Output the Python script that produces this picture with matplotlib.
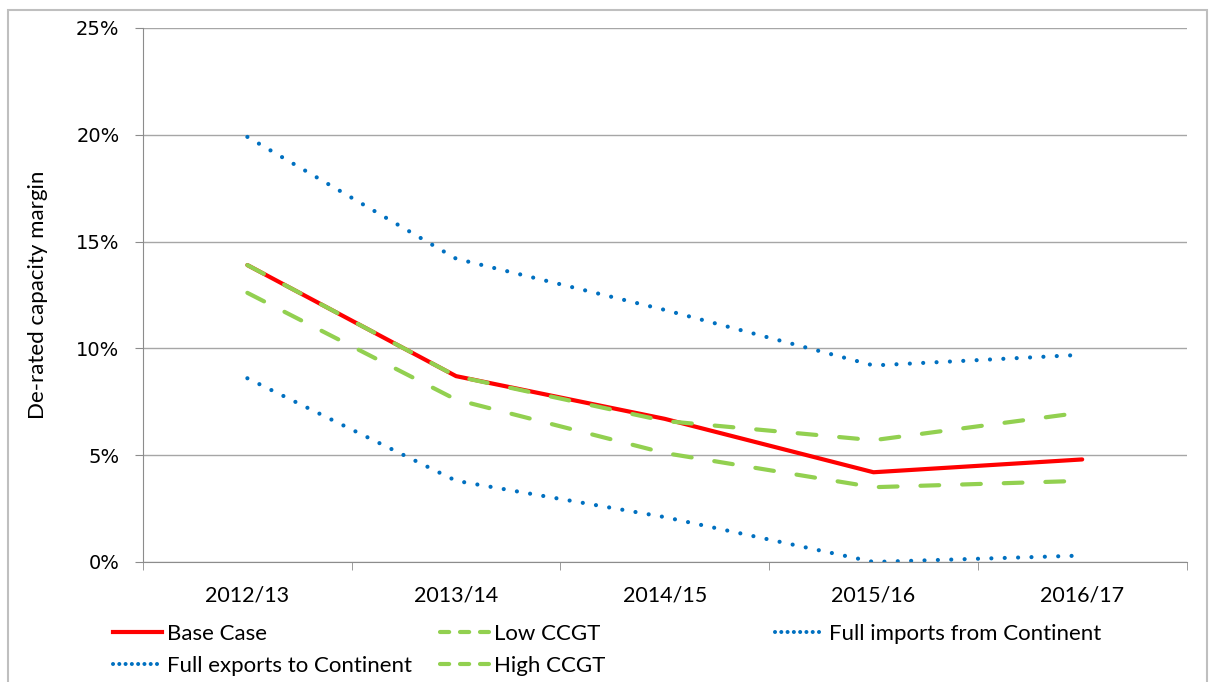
import matplotlib.pyplot as plt
from matplotlib.lines import Line2D
from matplotlib.patches import Rectangle
from matplotlib.ticker import FixedLocator, PercentFormatter

years = ["2012/13", "2013/14", "2014/15", "2015/16", "2016/17"]
base_case = [13.9, 8.7, 6.7, 4.2, 4.8]
low_ccgt = [12.6, 7.6, 5.1, 3.5, 3.8]
full_imports = [19.9, 14.2, 11.8, 9.2, 9.7]
full_exports = [8.6, 3.8, 2.1, 0.0, 0.3]
high_ccgt = [13.9, 8.7, 6.6, 5.7, 7.0]

narrow = ["Lato", "DejaVu Sans"]
red = "#FF0000"
green = "#92D050"
blue = "#0070C0"

fig = plt.figure(figsize=(12.12, 6.82), dpi=100)
ax = fig.add_axes([0.118, 0.176, 0.861, 0.783])

x = list(range(len(years)))
ax.plot(x, base_case, color=red, lw=3, solid_capstyle="round",
        solid_joinstyle="round", label="Base Case")
ax.plot(x, low_ccgt, color=green, lw=3, dashes=(4.5, 5.5),
        dash_capstyle="round", label="Low CCGT")
ax.plot(x, full_imports, color=blue, lw=3, dashes=(0.01, 3.2),
        dash_capstyle="round", label="Full imports from Continent")
ax.plot(x, full_exports, color=blue, lw=3, dashes=(0.01, 3.2),
        dash_capstyle="round", label="Full exports to Continent")
ax.plot(x, high_ccgt, color=green, lw=3, dashes=(4.5, 5.5),
        dash_capstyle="round", label="High CCGT")

ax.set_xlim(-0.5, len(years) - 0.5)
ax.set_ylim(0, 25)
ax.set_yticks([0, 5, 10, 15, 20, 25])
ax.yaxis.set_major_formatter(PercentFormatter(decimals=0))
ax.grid(axis="y", color="#A6A6A6", lw=1)
ax.set_axisbelow(True)

# category labels centred, ticks on category boundaries
ax.set_xticks(x)
ax.set_xticklabels(years, fontsize=15.5, family=narrow)
ax.tick_params(axis="x", which="major", length=0, pad=17)
ax.xaxis.set_minor_locator(FixedLocator([i - 0.5 for i in range(len(years) + 1)]))
ax.tick_params(axis="x", which="minor", length=6, color="#8C8C8C")
ax.tick_params(axis="y", length=6, color="#8C8C8C", labelsize=14, pad=11)

for s in ["top", "right"]:
    ax.spines[s].set_visible(False)
ax.spines["left"].set_color("#8C8C8C")
ax.spines["bottom"].set_color("#8C8C8C")

ax.set_ylabel("De-rated capacity margin", fontsize=16, family=narrow)
ax.yaxis.set_label_coords(-0.091, 0.5)

# legend, laid out as three columns below the axes
dot = dict(color=blue, lw=2.9, dashes=(0.01, 1.55), dash_capstyle="round")
dash = dict(color=green, lw=3, dashes=(2.2, 2.6), dash_capstyle="round")
columns = [
    ([Line2D([], [], color=red, lw=3), Line2D([], [], **dot)],
     ["Base Case", "Full exports to Continent"], 113),
    ([Line2D([], [], **dash), Line2D([], [], **dash)],
     ["Low CCGT", "High CCGT"], 440),
    ([Line2D([], [], **dot)], ["Full imports from Continent"], 775),
]
for handles, labels, px in columns:
    leg = fig.legend(handles, labels, loc="upper left",
                     bbox_to_anchor=(px / 1212, 1 - 624 / 682),
                     frameon=False, prop={"family": narrow, "size": 16},
                     handlelength=2.2, handletextpad=0.25, labelspacing=0.55,
                     borderpad=0, borderaxespad=0)

fig.patches.append(Rectangle((8 / 1212, -0.1), 1199 / 1212, 1.1 - 10 / 682,
                             transform=fig.transFigure, fill=False,
                             edgecolor="#BFBFBF", lw=1.5))

fig.savefig("out.png", dpi=100)
